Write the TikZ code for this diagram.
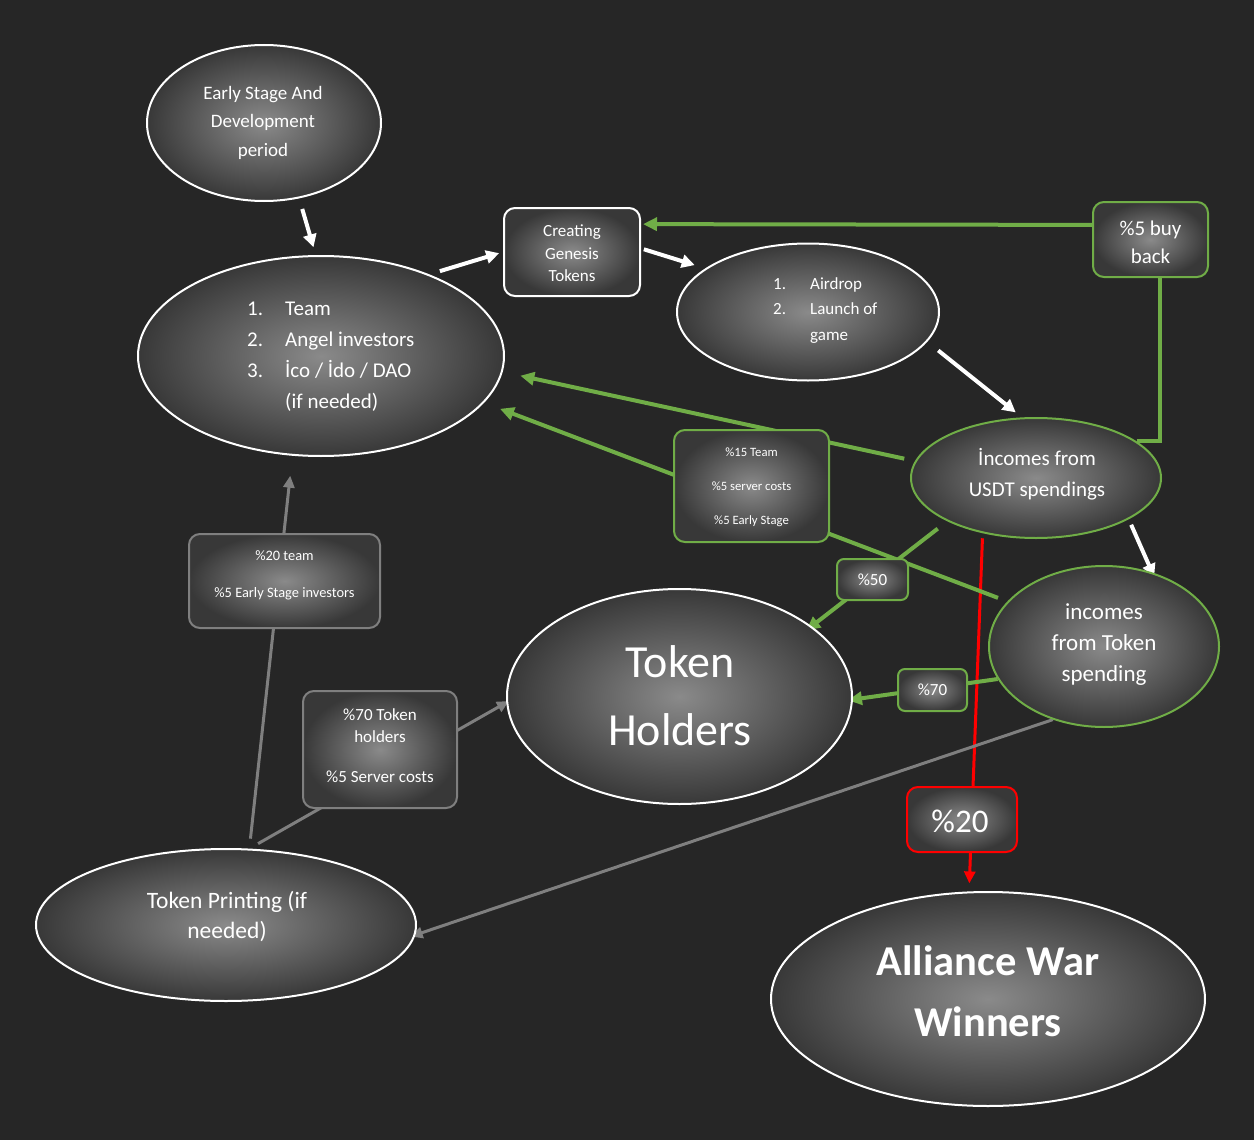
\documentclass[tikz,border=0pt]{standalone}
\usepackage{fontspec}
\setmainfont{Carlito}
\usetikzlibrary{arrows.meta,shapes.geometric}
\definecolor{bgc}{HTML}{262626}
\definecolor{grn}{HTML}{70AD47}
\definecolor{gln}{HTML}{7F7F7F}
\definecolor{shin}{HTML}{8A8A8A}
\definecolor{shout}{HTML}{383838}
\pgfdeclarelayer{bgl}
\pgfdeclarelayer{edges}
\pgfsetlayers{bgl,edges,main}
\newcommand\myfs[2]{\fontsize{#1}{#2}\selectfont}
\tikzset{
  shp/.style={inner color=shin, outer color=shout, line width=2pt},
  ell/.style={shp, ellipse, draw=white, inner sep=0pt},
  gell/.style={ell, draw=grn},
  bx/.style={shp, rectangle, rounded corners=11pt, inner sep=0pt},
  wbx/.style={bx, draw=white},
  gbx/.style={bx, draw=grn},
  rbx/.style={bx, draw=red},
  ybx/.style={bx, draw=gln},
  txt/.style={text=white, align=center, inner sep=0pt},
  ltxt/.style={text=white, align=left, inner sep=0pt, anchor=west},
  warr/.style={draw=white, line width=4pt, -{Triangle[length=13pt,width=13pt]}},
  garr/.style={draw=grn, line width=4pt, -{Triangle[length=14pt,width=13pt]}},
  gline/.style={draw=grn, line width=4pt},
  yarr/.style={draw=gln, line width=3pt, -{Triangle[length=12pt,width=11pt]}},
  rarr/.style={draw=red, line width=3pt, -{Triangle[length=12pt,width=11pt]}},
}
\begin{document}
\begin{tikzpicture}[x=1pt,y=-1pt]
\useasboundingbox (0,0) rectangle (1254,1140);
\begin{pgfonlayer}{bgl}
\fill[bgc] (0,0) rectangle (1254,1140);
\end{pgfonlayer}

% shapes
\node[ell, minimum width=234pt, minimum height=156pt] (early) at (264,123) {};
\node[ell, minimum width=366pt, minimum height=200pt] (team) at (321,356) {};
\node[wbx, minimum width=136pt, minimum height=88pt] (creating) at (572,252) {};
\node[ell, minimum width=262pt, minimum height=137pt] (air) at (808,312) {};
\node[gbx, minimum width=115pt, minimum height=75pt] (buyback) at (1150.5,239.5) {};
\node[gell, minimum width=250pt, minimum height=120pt] (usdt) at (1036,478) {};
\node[gbx, minimum width=155pt, minimum height=112pt] (p15) at (751.5,486) {};
\node[gbx, minimum width=71pt, minimum height=41pt, rounded corners=7pt] (p50) at (872.5,579.5) {};
\node[ell, minimum width=345pt, minimum height=215pt] (holders) at (679.5,696.5) {};
\node[gell, minimum width=230pt, minimum height=161pt] (tokspend) at (1104,646.5) {};
\node[gbx, minimum width=69pt, minimum height=42pt, rounded corners=7pt] (p70) at (932.5,690) {};
\node[rbx, minimum width=110pt, minimum height=65pt] (p20) at (962,819.5) {};
\node[ell, minimum width=434pt, minimum height=214pt] (alliance) at (988,999) {};
\node[ybx, minimum width=191pt, minimum height=94pt] (t20) at (284.5,581) {};
\node[ybx, minimum width=154pt, minimum height=117pt] (t70) at (380,749.5) {};
\node[ell, minimum width=380pt, minimum height=152pt] (printing) at (226,925) {};

% texts
\node[txt, font=\myfs{19}{28.5}] (tearly) at (263,122.5) {Early Stage And\\Development\\period};
\node[ltxt, font=\myfs{21}{31}] (tteam) at (247,356.5) {\makebox[38pt][l]{1.}Team\\\makebox[38pt][l]{2.}Angel investors\\\makebox[38pt][l]{3.}İco / İdo / DAO\\\hspace*{38pt}(if needed)};
\node[txt, font=\myfs{17}{22.5}] (tcreating) at (572,253.5) {Creating\\Genesis\\Tokens};
\node[ltxt, font=\myfs{17}{25.5}] (tair) at (773,310.5) {\makebox[37pt][l]{1.}Airdrop\\\makebox[37pt][l]{2.}Launch of\\\hspace*{37pt}game};
\node[txt, font=\myfs{21}{28}] (tbuyback) at (1150.5,242) {\%5 buy\\back};
\node[txt, font=\myfs{21}{31}] (tusdt) at (1037,474.5) {İncomes from\\USDT spendings};
\node[txt, font=\myfs{12.7}{34}] (tp15) at (751.5,487) {\%15 Team\\\%5 server costs\\\%5 Early Stage};
\node[txt, font=\myfs{17}{20}] (tp50) at (872.5,579.5) {\%50};
\node[txt, font=\myfs{46}{68}] (tholders) at (680,696) {Token\\Holders};
\node[txt, font=\myfs{23}{31}] (ttokspend) at (1104,645) {incomes\\from Token\\spending};
\node[txt, font=\myfs{17}{20}] (tp70) at (932.5,690) {\%70};
\node[txt, font=\myfs{33}{36}] (tp20) at (960,821) {\%20};
\node[txt, font=\bfseries\myfs{42.5}{61}] (talliance) at (988,991.5) {Alliance War\\Winners};
\node[txt, font=\myfs{14.4}{37}] (tt20) at (284.5,575.5) {\%20 team\\\%5 Early Stage investors};
\node[txt, font=\myfs{17}{22}] (tt70) at (380,746) {\%70 Token\\holders\\[18pt]\%5 Server costs};
\node[txt, font=\myfs{23.5}{30}] (tprinting) at (227,917) {Token Printing (if\\needed)};

% connectors
\begin{pgfonlayer}{edges}
\draw[rarr, shorten <=5pt, shorten >=8pt] (usdt.-134) -- (alliance.100);
\draw[yarr, shorten <=10pt, shorten >=20pt] (printing.73) -- (team.-106);
\draw[yarr, shorten <=10pt, shorten >=-3pt] (printing.73) -- (holders.182);
\draw[yarr, shorten >=-5pt] (tokspend.-125) -- (printing.-3);
\draw[warr, shorten <=11pt, shorten >=8pt] (early.-65) -- (team.93);
\draw[warr, shorten <=11pt, shorten >=4pt] (team.37) -- (creating.west);
\draw[warr, shorten <=3pt, shorten >=11pt] (creating.3) -- (air.157);
\draw[warr, shorten <=14pt, shorten >=8pt] (air.-14) -- (usdt.103);
\draw[warr, shorten <=6pt, shorten >=-5pt] (usdt.-24) -- (tokspend.57);
\draw[gline] (usdt.20) -| (buyback.-76);
\draw[garr, shorten >=2pt] (buyback.166) -- (creating.22);
\draw[garr, shorten <=11pt, shorten >=18pt] (usdt.172) -- (team.-5);
\draw[garr, shorten <=10pt, shorten >=17pt] (tokspend.155) -- (team.-16);
\draw[garr, shorten <=12pt, shorten >=-7pt] (usdt.206) -- (holders.28);
\draw[garr, shorten >=-5pt] (tokspend.197) -- (holders.-1);
\end{pgfonlayer}
\end{tikzpicture}
\end{document}
